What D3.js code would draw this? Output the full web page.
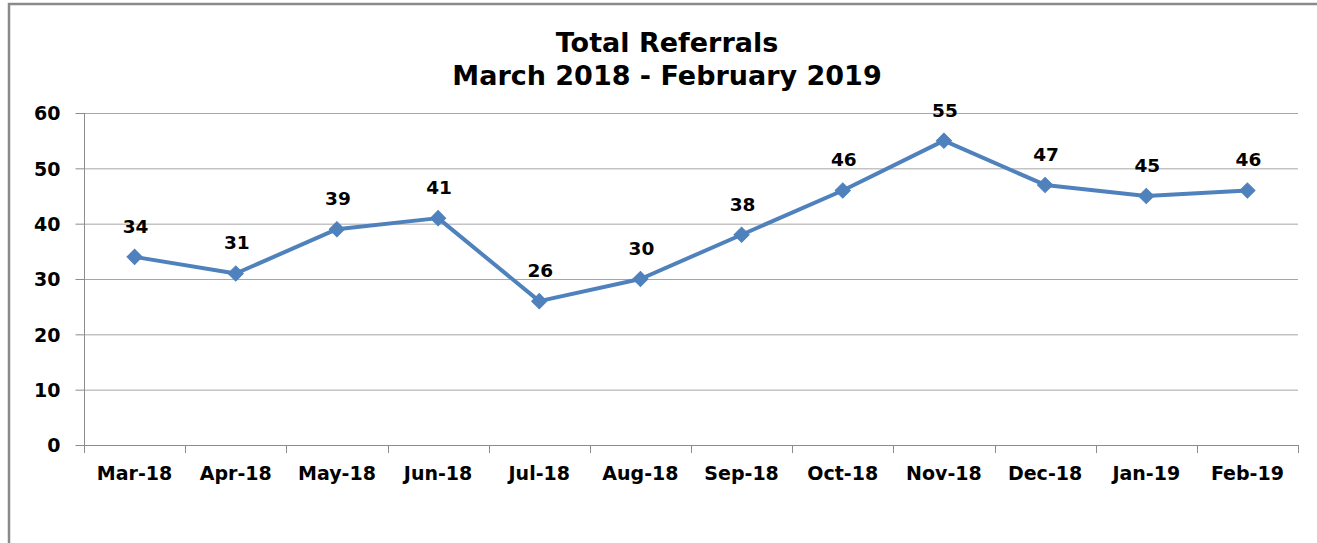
<!DOCTYPE html>
<html><head><meta charset="utf-8">
<script src="https://cdn.jsdelivr.net/npm/d3@7/dist/d3.min.js"></script>
<style>
html,body{margin:0;padding:0;background:#fff;}
svg{display:block;}
text{font-family:"DejaVu Sans",Verdana,sans-serif;font-weight:bold;fill:#000;}
</style></head>
<body>
<svg id="chart" width="1317" height="543"></svg>
<script>
const months = ["Mar-18","Apr-18","May-18","Jun-18","Jul-18","Aug-18","Sep-18","Oct-18","Nov-18","Dec-18","Jan-19","Feb-19"];
const referrals = [34,31,39,41,26,30,38,46,55,47,45,46];
const yTicks = [0,10,20,30,40,50,60];
const titleLines = ["Total Referrals","March 2018 - February 2019"];

(function(){
const svg = d3.select("#chart");
const W = 1317, H = 543;
svg.append("rect").attr("width",W).attr("height",H).attr("fill","#fff");
svg.append("rect").attr("x",9).attr("y",4).attr("width",W+20).attr("height",H+20)
  .attr("fill","none").attr("stroke","#8a8a8a").attr("stroke-width",2.5);

const pL = 84, pR = 1298, pT = 113, pB = 445;
const x = d3.scaleBand().domain(months).range([pL,pR]).padding(0);
const y = d3.scaleLinear().domain([0,60]).range([pB,pT]);

svg.append("g").selectAll("line").data(yTicks.filter(d=>d>0)).join("line")
  .attr("x1",pL).attr("x2",pR).attr("y1",d=>y(d)+0.5).attr("y2",d=>y(d)+0.5)
  .attr("stroke","#a6a6a6").attr("stroke-width",1);

const ya = svg.append("g").attr("transform",`translate(${pL+0.5},0)`)
  .call(d3.axisLeft(y).tickValues(yTicks).tickSize(9).tickPadding(15).tickFormat(d3.format("d")));
ya.select(".domain").attr("stroke","#8c8c8c").attr("d",`M0,${pT}V${pB}`);
ya.selectAll(".tick line").attr("stroke","#8c8c8c");
ya.selectAll(".tick text").attr("font-size",19).attr("font-family","DejaVu Sans").attr("font-weight","bold").attr("fill","#000").attr("dy","0.36em");

const xa = svg.append("g").attr("transform",`translate(0,${pB+0.5})`)
  .call(d3.axisBottom(x).tickSize(0).tickPadding(21));
xa.select(".domain").attr("stroke","#8c8c8c").attr("d",`M${pL},0H${pR}`);
xa.selectAll(".tick text").attr("font-size",19).attr("font-family","DejaVu Sans").attr("font-weight","bold").attr("fill","#000");
const bounds = months.map(m=>x(m)).concat([pR]);
svg.append("g").selectAll("line").data(bounds).join("line")
  .attr("x1",d=>Math.round(d)+0.5).attr("x2",d=>Math.round(d)+0.5)
  .attr("y1",pB).attr("y2",pB+8).attr("stroke","#8c8c8c");

const cx = d => x(d) + x.bandwidth()/2;

const line = d3.line().x((d,i)=>cx(months[i])).y(d=>y(d));
svg.append("path").datum(referrals).attr("d",line)
  .attr("fill","none").attr("stroke","#4F81BD").attr("stroke-width",4).attr("stroke-linejoin","round");

const sym = d3.symbol().type(d3.symbolSquare).size(115);
svg.append("g").selectAll("path").data(referrals).join("path")
  .attr("d",sym).attr("transform",(d,i)=>`translate(${cx(months[i])},${y(d)}) rotate(45)`)
  .attr("fill","#4F81BD").attr("stroke","#4F81BD").attr("stroke-width",1);

svg.append("g").selectAll("text").data(referrals).join("text")
  .attr("x",(d,i)=>cx(months[i])+1).attr("y",d=>y(d)-24)
  .attr("text-anchor","middle").attr("font-size",18.5).text(d=>d);

svg.append("g").selectAll("text").data(titleLines).join("text")
  .attr("x",667).attr("y",(d,i)=>52+i*33).attr("text-anchor","middle")
  .attr("font-size",27).text(d=>d);
})();
</script>
</body></html>
